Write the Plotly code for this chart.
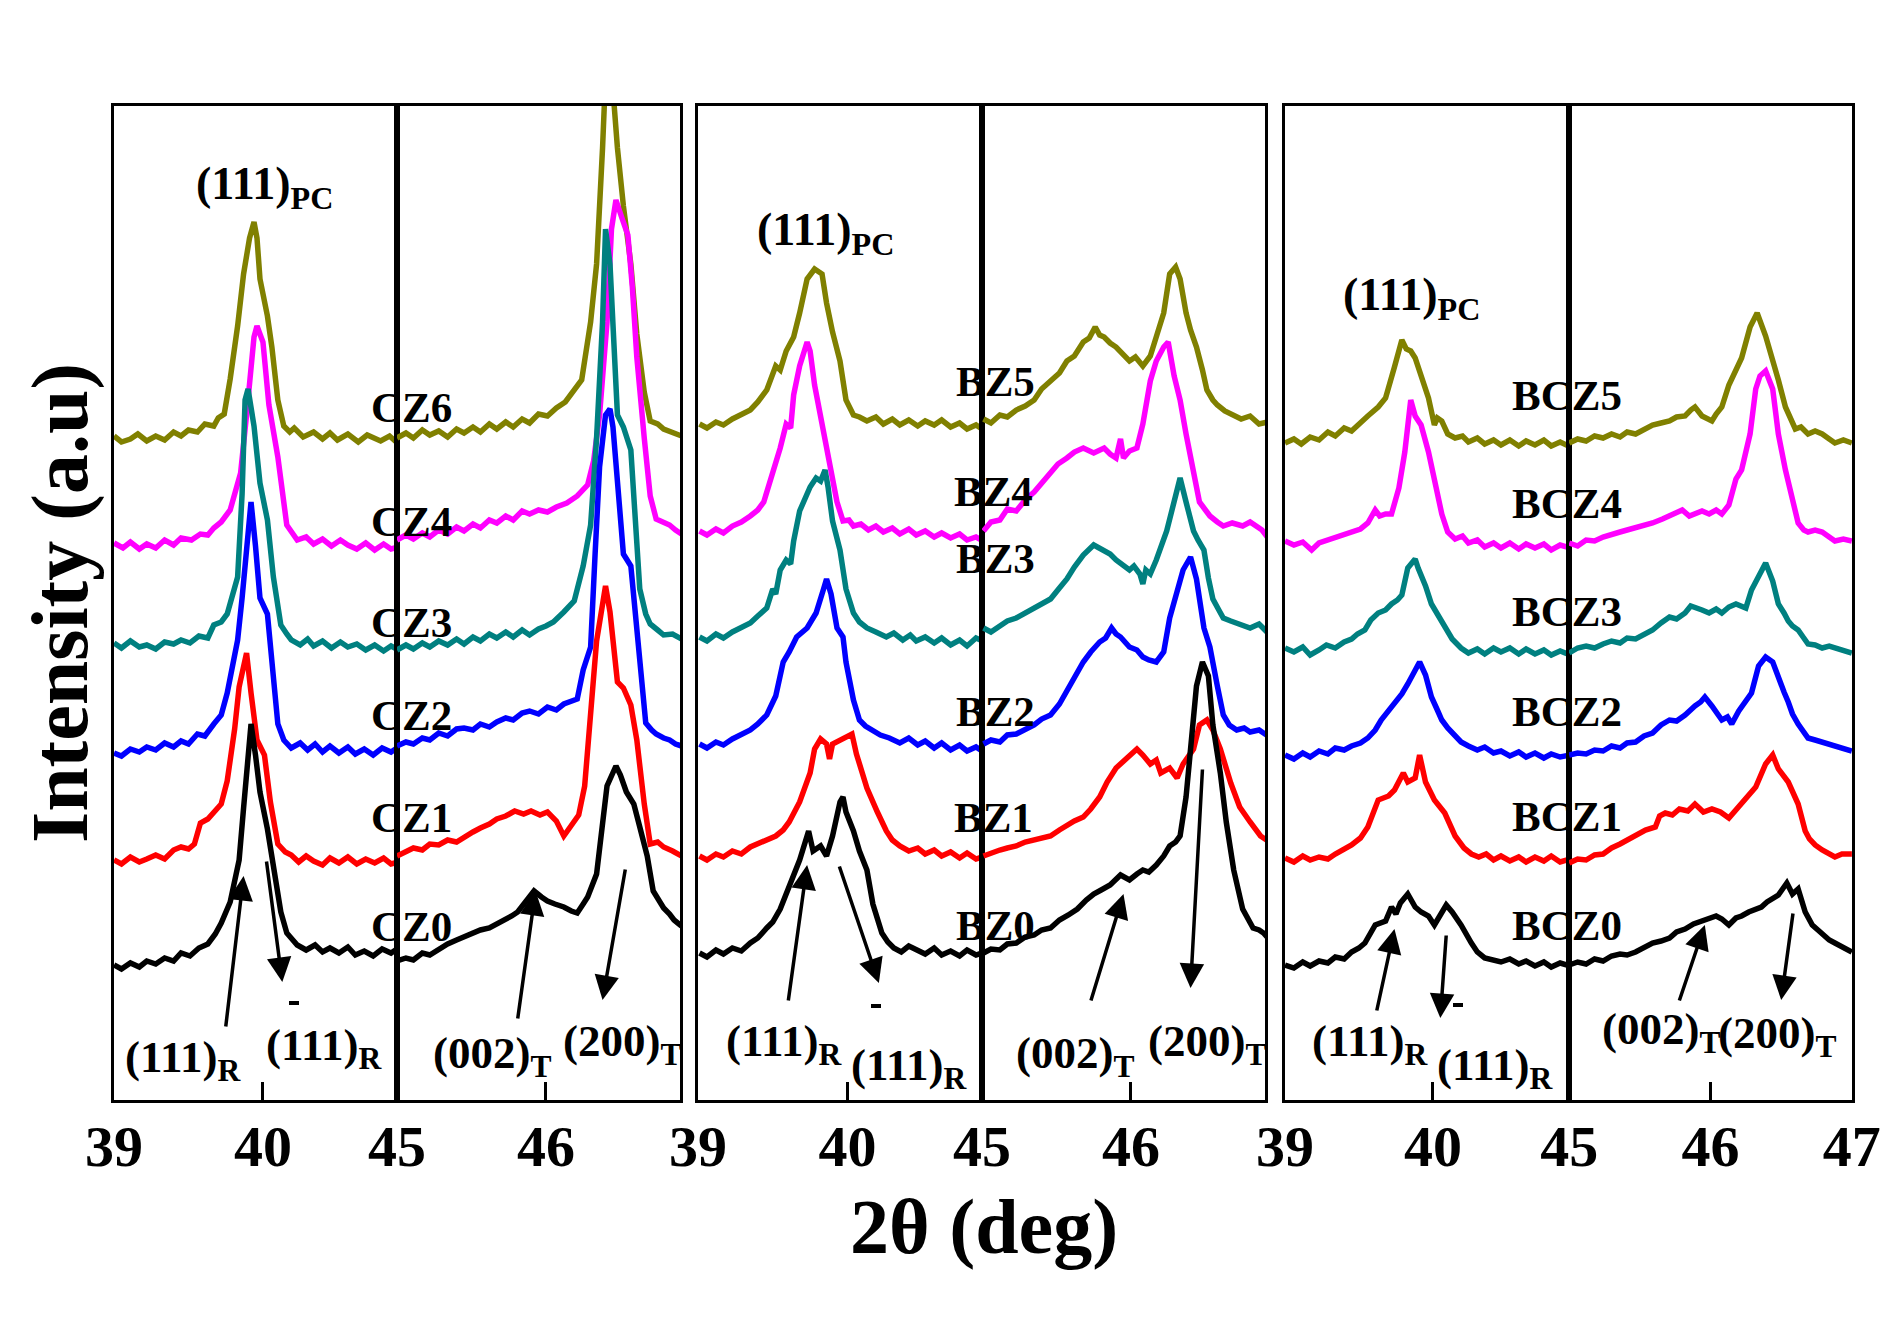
import plotly.graph_objects as go

# ---------------- data (2theta in deg, intensity in a.u., stacked as plotted) ----------------
# Panel 1: CZ series ; left window 39-40.9 deg, right window 45-46.9 deg
CZ6_L = [(39.00,664),(39.05,658),(39.11,661),(39.16,666),(39.22,659),(39.28,664),(39.34,660),(39.40,668),(39.45,664),(39.50,670),(39.56,668),(39.61,676),(39.67,674),(39.70,682),(39.74,686),(39.78,721),(39.83,774),(39.87,826),(39.91,862),(39.94,878),(39.96,862),(39.98,821),(40.03,784),(40.06,753),(40.10,700),(40.14,674),(40.18,668),(40.21,672),(40.27,663),(40.34,668),(40.40,661),(40.45,667),(40.50,660),(40.57,666),(40.64,658),(40.70,665),(40.79,659),(40.85,664),(40.91,656)]
CZ4_L = [(39.00,557),(39.06,552),(39.11,558),(39.17,551),(39.22,556),(39.28,552),(39.34,560),(39.40,555),(39.45,562),(39.52,560),(39.58,566),(39.63,565),(39.67,572),(39.72,578),(39.78,590),(39.85,627),(39.89,685),(39.94,763),(39.96,774),(40.00,758),(40.04,695),(40.10,643),(40.16,575),(40.20,566),(40.23,560),(40.29,563),(40.34,556),(40.40,561),(40.46,554),(40.52,560),(40.57,555),(40.63,551),(40.69,557),(40.75,550),(40.81,556),(40.86,551),(40.91,553)]
CZ3_L = [(39.00,457),(39.05,452),(39.11,459),(39.17,453),(39.22,455),(39.28,451),(39.34,458),(39.40,456),(39.45,460),(39.51,457),(39.57,464),(39.63,462),(39.67,475),(39.72,478),(39.76,486),(39.83,523),(39.86,606),(39.88,700),(39.90,711),(39.94,674),(39.98,617),(40.03,580),(40.07,523),(40.12,475),(40.16,466),(40.19,460),(40.25,455),(40.30,461),(40.34,454),(40.40,459),(40.46,452),(40.52,458),(40.57,453),(40.63,456),(40.69,450),(40.75,455),(40.81,449),(40.86,454),(40.91,450)]
CZ2_L = [(39.00,347),(39.05,344),(39.11,351),(39.17,348),(39.22,353),(39.28,350),(39.34,357),(39.40,353),(39.45,359),(39.50,356),(39.56,366),(39.61,364),(39.67,376),(39.72,385),(39.76,407),(39.83,460),(39.86,502),(39.89,554),(39.92,598),(39.95,554),(39.98,502),(40.03,486),(40.06,439),(40.10,376),(40.14,360),(40.19,352),(40.25,357),(40.30,350),(40.35,356),(40.40,348),(40.45,354),(40.51,347),(40.57,353),(40.62,346),(40.68,351),(40.74,345),(40.80,352),(40.86,348),(40.91,353)]
CZ1_L = [(39.00,240),(39.05,236),(39.11,243),(39.17,238),(39.22,241),(39.28,245),(39.34,241),(39.40,250),(39.45,253),(39.50,251),(39.54,256),(39.58,277),(39.63,281),(39.67,287),(39.72,296),(39.76,319),(39.81,371),(39.84,413),(39.89,447),(39.92,407),(39.96,360),(40.01,345),(40.05,298),(40.10,256),(40.15,248),(40.19,245),(40.24,238),(40.29,244),(40.34,239),(40.40,235),(40.45,242),(40.51,237),(40.57,243),(40.63,236),(40.69,241),(40.75,237),(40.81,242),(40.86,236),(40.91,238)]
CZ0_L = [(39.00,135),(39.05,131),(39.11,137),(39.17,133),(39.22,139),(39.28,136),(39.34,142),(39.40,139),(39.45,147),(39.51,144),(39.57,152),(39.63,156),(39.68,166),(39.72,177),(39.78,198),(39.84,240),(39.87,292),(39.89,329),(39.92,376),(39.95,345),(39.98,308),(40.03,271),(40.07,235),(40.12,188),(40.16,167),(40.20,160),(40.23,155),(40.29,150),(40.35,155),(40.40,148),(40.45,152),(40.51,147),(40.57,153),(40.62,145),(40.68,149),(40.74,144),(40.80,151),(40.86,147),(40.91,152)]

CZ6_R = [(45.00,662),(45.06,667),(45.11,662),(45.17,670),(45.22,665),(45.28,669),(45.34,663),(45.40,671),(45.45,667),(45.51,673),(45.56,668),(45.62,676),(45.67,671),(45.73,678),(45.78,673),(45.84,681),(45.89,677),(45.95,686),(46.01,684),(46.07,692),(46.13,698),(46.19,710),(46.24,720),(46.30,778),(46.34,836),(46.38,952),(46.41,1060),(46.45,1010),(46.48,952),(46.52,894),(46.57,836),(46.61,766),(46.66,708),(46.70,679),(46.75,676),(46.79,671),(46.85,668),(46.91,664)]
CZ4_R = [(45.00,560),(45.06,565),(45.11,561),(45.17,567),(45.22,563),(45.28,570),(45.34,566),(45.40,573),(45.45,569),(45.51,576),(45.56,572),(45.62,580),(45.67,577),(45.73,584),(45.78,580),(45.84,589),(45.89,586),(45.95,590),(46.01,588),(46.07,593),(46.14,597),(46.21,604),(46.28,615),(46.32,639),(46.36,685),(46.41,778),(46.44,871),(46.47,900),(46.51,882),(46.55,865),(46.58,813),(46.61,743),(46.66,662),(46.70,604),(46.74,581),(46.78,578),(46.83,575),(46.87,570),(46.91,566)]
CZ3_R = [(45.00,450),(45.06,455),(45.11,451),(45.17,457),(45.22,453),(45.28,459),(45.34,455),(45.40,461),(45.45,456),(45.51,463),(45.56,459),(45.62,466),(45.67,462),(45.73,468),(45.78,463),(45.84,470),(45.89,465),(45.95,471),(46.00,474),(46.05,478),(46.12,488),(46.19,499),(46.25,534),(46.30,575),(46.34,662),(46.38,778),(46.40,871),(46.43,836),(46.48,685),(46.52,673),(46.57,650),(46.60,569),(46.63,511),(46.67,486),(46.70,476),(46.75,470),(46.79,465),(46.85,466),(46.91,461)]
CZ2_R = [(45.00,354),(45.06,358),(45.11,356),(45.17,362),(45.22,360),(45.28,367),(45.34,364),(45.40,371),(45.45,372),(45.51,370),(45.56,376),(45.62,373),(45.67,378),(45.73,382),(45.78,380),(45.84,387),(45.89,389),(45.95,386),(46.01,393),(46.07,390),(46.12,396),(46.17,398),(46.21,401),(46.25,430),(46.30,453),(46.33,546),(46.36,633),(46.40,685),(46.43,691),(46.45,673),(46.49,604),(46.52,546),(46.57,534),(46.60,488),(46.63,430),(46.67,377),(46.71,370),(46.74,366),(46.79,362),(46.83,360),(46.87,356),(46.91,354)]
CZ1_R = [(45.00,244),(45.06,249),(45.11,252),(45.17,250),(45.22,256),(45.28,255),(45.34,260),(45.40,258),(45.45,263),(45.51,268),(45.56,272),(45.62,276),(45.67,281),(45.73,284),(45.79,289),(45.85,286),(45.90,289),(45.96,285),(46.01,288),(46.07,279),(46.12,264),(46.16,273),(46.22,285),(46.26,314),(46.31,401),(46.34,459),(46.40,514),(46.43,488),(46.48,418),(46.52,412),(46.57,395),(46.61,360),(46.66,296),(46.70,256),(46.75,258),(46.79,253),(46.85,249),(46.91,244)]
CZ0_R = [(45.00,139),(45.06,142),(45.11,140),(45.17,147),(45.22,145),(45.28,151),(45.34,156),(45.40,160),(45.45,163),(45.51,166),(45.56,170),(45.62,172),(45.67,176),(45.73,180),(45.77,184),(45.81,188),(45.86,198),(45.92,209),(45.97,203),(46.01,199),(46.06,196),(46.12,193),(46.17,189),(46.21,187),(46.25,196),(46.28,203),(46.34,226),(46.38,279),(46.41,314),(46.47,334),(46.50,325),(46.54,308),(46.59,296),(46.63,273),(46.68,244),(46.72,209),(46.76,200),(46.79,192),(46.83,186),(46.86,180),(46.91,174)]

# Panel 2: BZ series
BZ5_L = [(39.01,676),(39.06,672),(39.12,678),(39.17,675),(39.23,681),(39.29,686),(39.35,690),(39.40,698),(39.46,710),(39.52,734),(39.55,730),(39.59,749),(39.64,763),(39.68,787),(39.73,821),(39.78,831),(39.83,826),(39.86,797),(39.90,768),(39.95,739),(39.99,700),(40.04,685),(40.08,683),(40.13,679),(40.19,683),(40.24,676),(40.30,681),(40.35,675),(40.41,680),(40.47,674),(40.52,679),(40.58,675),(40.63,680),(40.69,673),(40.75,677),(40.80,671),(40.86,675),(40.92,669)]
BZ4_L = [(39.01,569),(39.06,565),(39.12,571),(39.17,567),(39.23,574),(39.29,578),(39.35,584),(39.40,590),(39.44,598),(39.50,627),(39.55,652),(39.59,676),(39.62,672),(39.64,705),(39.68,734),(39.73,758),(39.75,749),(39.78,715),(39.83,676),(39.88,637),(39.93,598),(39.97,579),(40.01,580),(40.04,574),(40.09,576),(40.14,570),(40.19,574),(40.24,568),(40.30,572),(40.35,566),(40.41,571),(40.46,565),(40.52,569),(40.58,563),(40.63,567),(40.69,562),(40.75,566),(40.80,560),(40.86,563),(40.92,558)]
BZ3_L = [(39.01,463),(39.06,459),(39.12,466),(39.17,462),(39.23,468),(39.29,473),(39.35,477),(39.40,484),(39.46,492),(39.50,511),(39.52,506),(39.55,530),(39.59,540),(39.62,536),(39.64,559),(39.68,589),(39.72,602),(39.75,613),(39.79,622),(39.82,619),(39.85,630),(39.87,613),(39.90,579),(39.95,550),(39.99,511),(40.04,487),(40.08,478),(40.13,472),(40.19,468),(40.26,463),(40.31,467),(40.37,460),(40.42,465),(40.46,459),(40.52,463),(40.58,457),(40.63,462),(40.69,455),(40.75,460),(40.80,454),(40.86,462),(40.92,458)]
BZ2_L = [(39.01,356),(39.06,352),(39.12,358),(39.17,355),(39.23,361),(39.29,365),(39.35,370),(39.40,376),(39.46,385),(39.52,404),(39.57,438),(39.61,448),(39.66,463),(39.73,472),(39.79,487),(39.84,511),(39.86,521),(39.89,506),(39.93,472),(39.97,463),(39.99,438),(40.04,400),(40.08,380),(40.12,374),(40.17,370),(40.22,365),(40.28,362),(40.35,357),(40.41,362),(40.47,355),(40.52,359),(40.58,352),(40.63,357),(40.69,350),(40.75,355),(40.80,349),(40.86,353),(40.92,347)]
BZ1_L = [(39.01,244),(39.06,240),(39.12,246),(39.17,243),(39.23,249),(39.29,246),(39.35,253),(39.40,256),(39.46,259),(39.52,264),(39.57,270),(39.61,278),(39.68,298),(39.75,327),(39.78,351),(39.82,361),(39.86,356),(39.88,341),(39.90,356),(39.97,361),(40.03,366),(40.06,346),(40.13,312),(40.20,288),(40.26,269),(40.30,260),(40.35,254),(40.41,249),(40.47,252),(40.52,246),(40.58,250),(40.63,244),(40.69,248),(40.75,242),(40.80,247),(40.86,241),(40.92,244)]
BZ0_L = [(39.01,147),(39.06,143),(39.12,150),(39.17,146),(39.23,152),(39.29,149),(39.35,157),(39.40,162),(39.46,172),(39.50,178),(39.55,191),(39.61,215),(39.68,240),(39.74,269),(39.77,249),(39.82,254),(39.86,244),(39.90,264),(39.95,298),(39.97,303),(39.99,288),(40.04,269),(40.08,249),(40.13,230),(40.17,196),(40.23,167),(40.27,158),(40.31,152),(40.36,148),(40.41,154),(40.46,150),(40.52,146),(40.58,152),(40.63,145),(40.69,149),(40.75,144),(40.80,150),(40.86,145),(40.92,148)]

BZ5_R = [(45.01,681),(45.06,677),(45.12,685),(45.17,683),(45.23,690),(45.29,694),(45.35,700),(45.40,711),(45.46,719),(45.52,727),(45.57,739),(45.62,744),(45.68,758),(45.72,762),(45.76,773),(45.79,765),(45.82,763),(45.86,757),(45.90,753),(45.95,745),(45.99,739),(46.03,743),(46.08,734),(46.13,744),(46.17,763),(46.22,787),(46.26,826),(46.30,833),(46.33,821),(46.37,787),(46.40,770),(46.44,753),(46.48,730),(46.51,710),(46.55,700),(46.58,695),(46.63,689),(46.69,685),(46.74,681),(46.80,684),(46.86,676),(46.92,678)]
BZ4_R = [(45.01,569),(45.06,578),(45.12,580),(45.17,591),(45.23,589),(45.29,600),(45.35,608),(45.40,617),(45.46,627),(45.51,636),(45.57,642),(45.62,648),(45.68,652),(45.75,647),(45.82,652),(45.86,646),(45.90,642),(45.93,661),(45.95,642),(45.99,649),(46.04,652),(46.08,676),(46.13,719),(46.17,739),(46.22,753),(46.25,758),(46.29,724),(46.33,700),(46.37,666),(46.42,627),(46.46,598),(46.50,590),(46.53,584),(46.58,578),(46.62,574),(46.68,577),(46.75,574),(46.80,578),(46.84,574),(46.88,570),(46.92,562)]
BZ3_R = [(45.01,472),(45.06,468),(45.12,474),(45.17,479),(45.23,482),(45.29,487),(45.35,492),(45.40,497),(45.46,501),(45.52,512),(45.57,521),(45.62,533),(45.68,545),(45.75,555),(45.82,550),(45.86,546),(45.90,540),(45.95,535),(45.99,530),(46.02,534),(46.06,526),(46.08,516),(46.10,530),(46.13,526),(46.17,540),(46.24,569),(46.29,598),(46.33,622),(46.37,598),(46.42,569),(46.45,560),(46.49,550),(46.52,522),(46.55,501),(46.59,490),(46.62,482),(46.67,479),(46.71,477),(46.76,474),(46.80,472),(46.86,476),(46.92,467)]
BZ2_R = [(45.01,356),(45.06,360),(45.12,358),(45.17,365),(45.23,366),(45.29,371),(45.35,375),(45.40,381),(45.46,385),(45.52,396),(45.57,409),(45.62,423),(45.68,438),(45.73,448),(45.79,458),(45.83,462),(45.87,472),(45.90,466),(45.93,463),(45.99,453),(46.04,450),(46.08,443),(46.12,440),(46.17,438),(46.22,448),(46.26,482),(46.31,511),(46.35,530),(46.40,543),(46.44,521),(46.49,472),(46.53,453),(46.58,414),(46.62,385),(46.66,375),(46.71,370),(46.76,372),(46.80,368),(46.86,370),(46.92,364)]
BZ1_R = [(45.01,244),(45.06,247),(45.12,250),(45.17,252),(45.23,254),(45.29,258),(45.35,260),(45.40,262),(45.46,264),(45.52,270),(45.57,275),(45.62,279),(45.68,283),(45.73,291),(45.79,303),(45.84,318),(45.90,332),(45.97,341),(46.04,351),(46.08,345),(46.13,336),(46.17,340),(46.20,327),(46.26,332),(46.31,322),(46.35,336),(46.42,351),(46.46,375),(46.51,380),(46.55,370),(46.60,351),(46.67,317),(46.73,293),(46.80,278),(46.84,270),(46.87,264),(46.92,259)]
BZ0_R = [(45.01,147),(45.06,151),(45.12,150),(45.17,156),(45.23,157),(45.29,163),(45.35,165),(45.40,170),(45.46,172),(45.52,180),(45.58,185),(45.64,191),(45.70,200),(45.75,206),(45.80,210),(45.86,215),(45.93,225),(45.99,220),(46.04,226),(46.08,230),(46.12,228),(46.17,235),(46.22,244),(46.26,254),(46.30,258),(46.33,264),(46.37,303),(46.41,375),(46.44,414),(46.48,438),(46.52,424),(46.55,375),(46.60,327),(46.64,278),(46.69,230),(46.75,191),(46.82,172),(46.86,170),(46.89,167),(46.92,162)]

# Panel 3: BCZ series ; right window 45-47 deg
BCZ5_L = [(39.00,657),(39.06,661),(39.11,656),(39.17,663),(39.23,660),(39.29,668),(39.34,664),(39.40,672),(39.45,669),(39.51,678),(39.56,684),(39.63,693),(39.68,702),(39.74,733),(39.79,760),(39.82,751),(39.85,749),(39.88,742),(39.92,724),(39.97,702),(40.01,675),(40.03,682),(40.06,679),(40.10,666),(40.15,662),(40.20,664),(40.24,658),(40.30,662),(40.35,656),(40.41,660),(40.46,655),(40.52,660),(40.58,654),(40.63,659),(40.69,655),(40.75,660),(40.80,654),(40.86,658),(40.93,653)]
BCZ4_L = [(39.00,559),(39.06,555),(39.12,558),(39.18,550),(39.23,557),(39.29,560),(39.34,563),(39.40,566),(39.45,568),(39.51,571),(39.56,577),(39.61,590),(39.64,584),(39.68,586),(39.72,586),(39.77,612),(39.81,648),(39.85,700),(39.88,684),(39.92,675),(39.97,648),(40.01,621),(40.06,586),(40.10,568),(40.15,561),(40.20,564),(40.24,557),(40.30,560),(40.35,553),(40.41,557),(40.46,552),(40.52,557),(40.58,551),(40.63,556),(40.69,552),(40.75,556),(40.80,550),(40.86,555),(40.93,552)]
BCZ3_L = [(39.00,452),(39.06,448),(39.12,453),(39.17,445),(39.23,450),(39.28,455),(39.34,452),(39.40,458),(39.45,461),(39.49,466),(39.54,470),(39.58,480),(39.63,487),(39.68,490),(39.72,496),(39.76,500),(39.79,505),(39.83,532),(39.88,541),(39.90,532),(39.95,514),(39.99,496),(40.03,486),(40.06,479),(40.10,470),(40.13,461),(40.19,452),(40.24,447),(40.30,451),(40.35,446),(40.41,452),(40.46,448),(40.52,452),(40.58,446),(40.63,451),(40.69,446),(40.75,450),(40.80,445),(40.86,449),(40.93,445)]
BCZ2_L = [(39.00,345),(39.06,341),(39.12,347),(39.17,343),(39.23,349),(39.29,346),(39.34,352),(39.40,350),(39.45,354),(39.51,357),(39.56,362),(39.61,370),(39.65,380),(39.70,389),(39.74,398),(39.79,406),(39.83,416),(39.88,429),(39.91,438),(39.95,425),(39.99,403),(40.03,390),(40.06,380),(40.10,372),(40.13,367),(40.19,358),(40.24,354),(40.30,350),(40.35,353),(40.41,347),(40.46,349),(40.52,344),(40.58,348),(40.63,343),(40.69,347),(40.75,342),(40.80,346),(40.86,343),(40.93,345)]
BCZ1_L = [(39.00,242),(39.06,238),(39.12,244),(39.17,240),(39.23,243),(39.29,241),(39.34,246),(39.40,251),(39.45,255),(39.51,262),(39.56,273),(39.63,300),(39.70,304),(39.74,310),(39.77,318),(39.80,327),(39.83,318),(39.88,322),(39.91,345),(39.95,318),(40.01,300),(40.08,287),(40.15,264),(40.21,252),(40.26,246),(40.31,243),(40.36,246),(40.41,240),(40.46,244),(40.52,239),(40.58,243),(40.63,238),(40.69,243),(40.75,239),(40.80,244),(40.86,238),(40.93,241)]
BCZ0_L = [(39.00,135),(39.06,132),(39.12,138),(39.17,134),(39.23,139),(39.29,137),(39.34,143),(39.40,141),(39.45,148),(39.50,152),(39.54,157),(39.61,175),(39.68,179),(39.72,193),(39.75,186),(39.78,197),(39.83,206),(39.88,193),(39.92,188),(39.97,184),(40.01,175),(40.06,188),(40.09,195),(40.13,188),(40.19,175),(40.26,157),(40.30,148),(40.35,142),(40.41,140),(40.46,138),(40.52,141),(40.58,136),(40.63,139),(40.69,134),(40.75,138),(40.80,133),(40.86,137),(40.93,134)]

BCZ5_R = [(45.00,657),(45.06,661),(45.12,659),(45.18,664),(45.24,662),(45.30,666),(45.36,663),(45.41,668),(45.47,666),(45.53,671),(45.59,675),(45.65,677),(45.71,679),(45.76,683),(45.82,684),(45.86,690),(45.89,693),(45.94,684),(46.01,679),(46.04,686),(46.08,693),(46.13,715),(46.18,729),(46.22,742),(46.28,773),(46.33,787),(46.39,764),(46.44,742),(46.48,720),(46.53,693),(46.57,680),(46.60,671),(46.64,673),(46.69,666),(46.74,669),(46.79,666),(46.84,661),(46.88,657),(46.94,660),(47.00,657)]
BCZ4_R = [(45.00,557),(45.06,554),(45.12,560),(45.18,559),(45.24,563),(45.30,566),(45.36,568),(45.41,570),(45.47,572),(45.53,575),(45.59,577),(45.66,581),(45.73,586),(45.80,590),(45.85,584),(45.89,586),(45.94,589),(45.99,586),(46.04,590),(46.08,586),(46.13,595),(46.18,621),(46.22,630),(46.28,666),(46.32,711),(46.35,724),(46.39,729),(46.44,711),(46.48,666),(46.53,630),(46.58,599),(46.62,577),(46.66,570),(46.69,568),(46.74,570),(46.79,568),(46.84,563),(46.88,559),(46.94,561),(47.00,559)]
BCZ3_R = [(45.00,447),(45.06,452),(45.12,454),(45.18,452),(45.24,456),(45.30,459),(45.36,457),(45.41,462),(45.47,461),(45.53,466),(45.59,470),(45.65,477),(45.71,483),(45.76,481),(45.82,487),(45.86,494),(45.89,492),(45.94,490),(45.99,487),(46.04,491),(46.08,487),(46.13,493),(46.18,496),(46.25,492),(46.29,510),(46.34,523),(46.39,537),(46.44,519),(46.48,496),(46.52,487),(46.55,479),(46.58,474),(46.62,470),(46.66,462),(46.69,456),(46.74,455),(46.79,452),(46.84,454),(46.88,452),(46.94,449),(47.00,447)]
BCZ2_R = [(45.00,345),(45.06,347),(45.12,346),(45.18,350),(45.24,349),(45.30,354),(45.36,352),(45.41,357),(45.47,358),(45.53,364),(45.59,367),(45.65,375),(45.71,380),(45.76,379),(45.82,385),(45.86,391),(45.89,394),(45.93,398),(45.96,403),(46.01,394),(46.04,388),(46.08,380),(46.12,383),(46.15,376),(46.20,389),(46.25,398),(46.29,407),(46.34,434),(46.39,443),(46.44,438),(46.48,421),(46.52,408),(46.55,398),(46.58,386),(46.62,376),(46.66,368),(46.69,362),(46.74,360),(46.79,358),(46.84,356),(46.88,354),(46.94,351),(47.00,349)]
BCZ1_R = [(45.00,237),(45.06,241),(45.12,240),(45.18,245),(45.24,246),(45.30,252),(45.36,256),(45.41,260),(45.47,264),(45.54,270),(45.61,273),(45.64,284),(45.68,287),(45.73,285),(45.78,291),(45.84,289),(45.89,296),(45.95,288),(46.01,291),(46.07,288),(46.13,282),(46.18,290),(46.22,296),(46.27,304),(46.32,313),(46.39,336),(46.44,345),(46.48,331),(46.55,318),(46.62,296),(46.67,269),(46.70,261),(46.74,255),(46.79,250),(46.84,246),(46.88,243),(46.93,246),(47.00,246)]
BCZ0_R = [(45.00,135),(45.06,138),(45.12,136),(45.18,141),(45.24,139),(45.30,144),(45.36,146),(45.41,145),(45.47,148),(45.53,153),(45.59,157),(45.65,159),(45.71,162),(45.76,168),(45.82,171),(45.88,176),(45.94,179),(45.99,182),(46.04,184),(46.08,181),(46.13,175),(46.18,182),(46.22,184),(46.27,188),(46.32,190),(46.36,193),(46.40,198),(46.44,202),(46.48,205),(46.51,211),(46.54,217),(46.58,206),(46.62,211),(46.67,188),(46.72,175),(46.76,170),(46.79,166),(46.84,160),(46.88,157),(46.94,152),(47.00,148)]

LEFT_TICKS = [39, 40]
RIGHT_TICKS = [45, 46]
RIGHT_TICKS_LAST = [45, 46, 47]

OLIVE, MAGENTA, TEAL, BLUE, RED, BLACK = "#808000", "#FF00FF", "#008080", "#0000FF", "#FF0000", "#000000"

PANELS = [
    (1, 2, [("CZ6", OLIVE, CZ6_L, CZ6_R), ("CZ4", MAGENTA, CZ4_L, CZ4_R), ("CZ3", TEAL, CZ3_L, CZ3_R),
            ("CZ2", BLUE, CZ2_L, CZ2_R), ("CZ1", RED, CZ1_L, CZ1_R), ("CZ0", BLACK, CZ0_L, CZ0_R)]),
    (3, 4, [("BZ5", OLIVE, BZ5_L, BZ5_R), ("BZ4", MAGENTA, BZ4_L, BZ4_R), ("BZ3", TEAL, BZ3_L, BZ3_R),
            ("BZ2", BLUE, BZ2_L, BZ2_R), ("BZ1", RED, BZ1_L, BZ1_R), ("BZ0", BLACK, BZ0_L, BZ0_R)]),
    (5, 6, [("BCZ5", OLIVE, BCZ5_L, BCZ5_R), ("BCZ4", MAGENTA, BCZ4_L, BCZ4_R), ("BCZ3", TEAL, BCZ3_L, BCZ3_R),
            ("BCZ2", BLUE, BCZ2_L, BCZ2_R), ("BCZ1", RED, BCZ1_L, BCZ1_R), ("BCZ0", BLACK, BCZ0_L, BCZ0_R)]),
]

# The page body adds an 8 px margin, so the figure is sized to fit inside the window
# and all layout positions below are given in window pixels.
OFF = 8
W, H = 1874, 1311
FONT = "Liberation Serif, Times New Roman, serif"

def ax_name(i, kind):
    return kind if i == 1 else f"{kind}{i}"

def px(xp):
    return (xp - OFF) / W

def py(yp):
    return 1 - (yp - OFF) / H

fig = go.Figure()
for li, ri, series in PANELS:
    for name, color, dl, dr in series:
        for idx, d in ((li, dl), (ri, dr)):
            fig.add_trace(go.Scatter(
                x=[p[0] for p in d], y=[p[1] for p in d], mode="lines",
                line=dict(color=color, width=5.5), name=name, showlegend=False,
                xaxis=ax_name(idx, "x"), yaxis=ax_name(idx, "y"), hoverinfo="skip"))

# sub-panel frame edges (window pixels)
X_EDGES = [(114, 397), (397, 680), (698, 982), (982, 1265), (1285, 1569), (1569, 1852)]
Y_TOP, Y_BOT = 106, 1100
RANGES = [[39, 40.9], [45, 46.9], [39, 40.9], [45, 46.9], [39, 40.92], [44.999, 47.001]]
TICKS = [LEFT_TICKS, RIGHT_TICKS, LEFT_TICKS, RIGHT_TICKS, LEFT_TICKS, RIGHT_TICKS_LAST]

layout = dict(template="none", width=W, height=H, margin=dict(l=0, r=0, t=0, b=0, pad=0, autoexpand=False),
              paper_bgcolor="white", plot_bgcolor="white", autosize=False,
              font=dict(family=FONT, color="black", weight="bold"), showlegend=False)
for i in range(6):
    n = i + 1
    x0, x1 = X_EDGES[i]
    layout[ax_name(n, "xaxis")] = dict(
        domain=[px(x0), px(x1)], range=RANGES[i], anchor=ax_name(n, "y"), automargin=False,
        showline=True, linewidth=3, linecolor="black", mirror=True,
        ticks="inside", ticklen=18, tickwidth=3, tickcolor="black",
        tickvals=TICKS[i], ticktext=[str(t) for t in TICKS[i]],
        tickfont=dict(family=FONT, size=58, color="black", weight="bold"),
        ticklabelstandoff=-7, showgrid=False, zeroline=False, fixedrange=True)
    layout[ax_name(n, "yaxis")] = dict(
        domain=[py(Y_BOT), py(Y_TOP)], range=[0, 994], anchor=ax_name(n, "x"), automargin=False,
        showline=True, linewidth=3, linecolor="black", mirror=True,
        showticklabels=False, ticks="", showgrid=False, zeroline=False, fixedrange=True)
fig.update_layout(**layout)

ann = []
def text(t, xp, yp, size, xanchor="center", yanchor="middle", angle=0):
    ann.append(dict(text=f"<b>{t}</b>", x=px(xp), y=py(yp), xref="paper", yref="paper",
                    showarrow=False, xanchor=xanchor, yanchor=yanchor, textangle=angle,
                    font=dict(family=FONT, size=size, color="black")))

# axis titles
text("2θ (deg)", 984, 1226, 78)
text("Intensity (a.u)", 60, 603, 80, angle=-90)

# (111)pc labels
for xp, yp in [(264, 187), (825, 233), (1411, 298)]:
    text("(111)<sub>PC</sub>", xp, yp, 46)

# sample labels
for t, xp, yp in [("CZ6", 411, 407), ("CZ4", 411, 521), ("CZ3", 411, 623), ("CZ2", 411, 715), ("CZ1", 411, 817), ("CZ0", 411, 926),
                  ("BZ5", 995, 381), ("BZ4", 993, 492), ("BZ3", 995, 558), ("BZ2", 995, 711), ("BZ1", 993, 817), ("BZ0", 995, 925),
                  ("BCZ5", 1567, 395), ("BCZ4", 1567, 503), ("BCZ3", 1567, 611), ("BCZ2", 1567, 711), ("BCZ1", 1567, 816), ("BCZ0", 1567, 925)]:
    text(t, xp, yp, 43)

# bottom phase labels
for t, xp, yp in [("(111)<sub>R</sub>", 183, 1060), ("(111)<sub>R</sub>", 324, 1048), ("(002)<sub>T</sub>", 492, 1056), ("(200)<sub>T</sub>", 622, 1044),
                  ("(111)<sub>R</sub>", 784, 1044), ("(111)<sub>R</sub>", 909, 1068), ("(002)<sub>T</sub>", 1075, 1056), ("(200)<sub>T</sub>", 1207, 1044),
                  ("(111)<sub>R</sub>", 1370, 1044), ("(111)<sub>R</sub>", 1495, 1068), ("(002)<sub>T</sub>", 1661, 1032), ("(200)<sub>T</sub>", 1777, 1036)]:
    text(t, xp, yp, 45)

# arrows: head in data coords of a sub-panel, tail offset in pixels
ARROWS = [(1, 39.87, 224, -18, 152), (1, 40.13, 118, -16, -122), (2, 45.93, 209, -18, 129), (2, 46.38, 100, 23, -132),
          (3, 39.73, 235, -19, 137), (3, 40.21, 117, -40, -118), (4, 45.95, 206, -33, 108), (4, 46.40, 112, 12, -220),
          (5, 39.74, 171, -18, 83), (5, 40.05, 82, 6, -84), (6, 45.96, 175, -26, 77), (6, 46.50, 100, 12, -88)]
for n, xh, yh, axo, ayo in ARROWS:
    ann.append(dict(text="", x=xh, y=yh, xref=ax_name(n, "x"), yref=ax_name(n, "y"),
                    showarrow=True, arrowhead=2, arrowsize=1.4, arrowwidth=3.5, arrowcolor="black",
                    ax=axo, ay=ayo, standoff=0, startstandoff=0))
fig.update_layout(annotations=ann)

# overbars of the (1-11) reflections
shapes = []
for xp, yp in [(294, 1003), (876, 1006), (1458, 1005)]:
    shapes.append(dict(type="line", xref="paper", yref="paper", x0=px(xp - 5), x1=px(xp + 5), y0=py(yp), y1=py(yp),
                       line=dict(color="black", width=4)))
fig.update_layout(shapes=shapes)

fig.write_html("out.html")
